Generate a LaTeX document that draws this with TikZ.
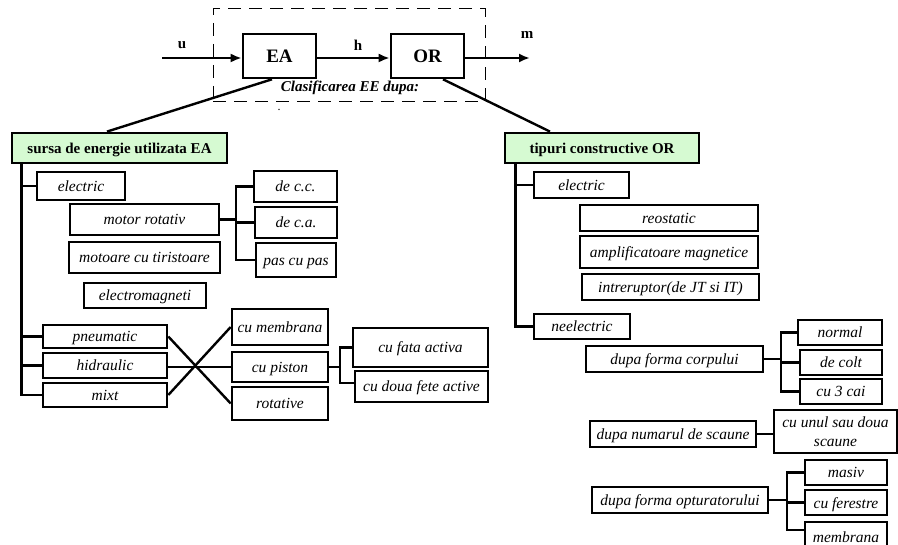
\documentclass[tikz,border=0pt]{standalone}
\usepackage{fontspec}
\setmainfont{Liberation Serif}
\usetikzlibrary{arrows.meta}
\definecolor{lgreen}{RGB}{214,250,210}
\newcommand\mkbox[7][itbox]{\node[#1,minimum width={(#5-#3)*1pt},minimum height={(#6-#4)*1pt}] (#2) at ({(#3+#5)/2},{(#4+#6)/2}) {#7};}
\tikzset{
  itbox/.style={draw, line width=2.6pt, inner sep=0pt, font=\fontsize{15.5}{19}\selectfont\itshape, align=center, text height=12pt, text depth=1pt},
  twoline/.style={draw, line width=2.6pt, inner sep=0pt, font=\fontsize{15.5}{19}\selectfont\itshape, align=center},
  headbox/.style={draw, line width=2.8pt, fill=lgreen, inner sep=0pt, font=\fontsize{15}{17}\selectfont\bfseries, text height=12pt, text depth=1pt},
  blk/.style={draw, line width=2.6pt, inner sep=0pt, font=\fontsize{19}{21}\selectfont\bfseries},
  frame/.style={draw, line width=1pt, dash pattern=on 13pt off 8pt, inner sep=0pt},
  conn/.style={line width=2.4pt},
  arr/.style={line width=2.4pt, -{Latex[length=11pt,width=9pt]}},
  lbl/.style={font=\fontsize{15}{17}\selectfont\bfseries, inner sep=0pt},
  cls/.style={font=\fontsize{15}{17}\selectfont\bfseries\itshape, inner sep=0pt}
}
\begin{document}
\begin{tikzpicture}[x=1pt,y=-1pt]
\useasboundingbox (0,0) rectangle (898,545);
\clip (0,0) rectangle (898,545);
% top block diagram
\mkbox[frame]{frm}{213}{9}{485}{102}{}
\mkbox[blk]{EA}{243}{34}{316}{78}{EA}
\mkbox[blk]{OR}{391}{34}{464}{78}{OR}
\coordinate (uin) at (162,58);
\coordinate (mout) at (530,58);
\draw[arr] (uin) -- (uin -| EA.west);
\draw[arr] (EA.east |- uin) -- (OR.west |- uin);
\draw[arr] (OR.east |- uin) -- (mout);
\node[lbl] (lu) at (182,45) {u};
\node[lbl] (lh) at (358,45) {h};
\node[lbl] (lm) at (527,35) {m};
\node[cls] (clas) at (350,88) {Clasificarea EE dupa:};
\node[lbl, font=\fontsize{12}{14}\selectfont] (dot) at (279,110) {.};
% headers
\mkbox[headbox]{sursa}{12}{133}{227}{163}{sursa de energie utilizata EA}
\mkbox[headbox]{tip}{505}{133}{699}{163}{tipuri constructive OR}
\draw[conn] ([xshift=-7.5pt]EA.south) -- ([xshift=-12.5pt]sursa.north);
\draw[conn] ([xshift=15.5pt]OR.south) -- ([xshift=-52pt]tip.north);
% left tree
\mkbox{el1}{37}{172}{125}{200}{electric}
\mkbox{motor}{70}{204}{219}{235}{motor rotativ}
\mkbox{tiri}{69}{242}{220}{273}{motoare cu tiristoare}
\mkbox{emag}{84}{283}{206}{308}{electromagneti}
\mkbox{dcc}{254}{171}{337}{202}{de c.c.}
\mkbox{dca}{255}{207}{337}{238}{de c.a.}
\mkbox{pcp}{256}{243}{336}{277}{pas cu pas}
\mkbox{pneu}{43}{325}{167}{348}{pneumatic}
\mkbox{hidr}{43}{353}{167}{378}{hidraulic}
\mkbox{mixt}{43}{383}{167}{407}{mixt}
\mkbox{memb}{232}{309}{328}{345}{cu membrana}
\mkbox{pist}{232}{352}{328}{382}{cu piston}
\mkbox{rot}{232}{387}{328}{420}{rotative}
\mkbox{fata}{353}{328}{488}{367}{cu fata activa}
\mkbox{doua}{355}{371}{488}{402}{cu doua fete active}
\coordinate (tl) at ([xshift=11pt]sursa.south west);
\draw[conn] (tl) |- (mixt.west);
\draw[conn] (tl |- el1.west) -- (el1.west);
\draw[conn] (tl |- pneu.west) -- (pneu.west);
\draw[conn] (tl |- hidr.west) -- (hidr.west);
\coordinate (b1) at (236,0);
\draw[conn] (motor.east) -- (motor.east -| b1);
\draw[conn] (dcc.west) -| (b1 |- pcp.west) -- (pcp.west);
\draw[conn] (b1 |- dca.west) -- (dca.west);
\draw[conn] (pneu.east) -- (rot.west);
\draw[conn] (mixt.east) -- (memb.west);
\draw[conn] (pist.west -| hidr.east) -- (pist.west);
\coordinate (b2) at (340,0);
\coordinate (douaw) at ([yshift=3.5pt]doua.west);
\draw[conn] (pist.east) -- (pist.east -| b2);
\draw[conn] (fata.west) -| (b2 |- douaw) -- (douaw);
% right tree
\mkbox{el2}{534}{172}{629}{198}{electric}
\mkbox{reo}{580}{205}{758}{231}{reostatic}
\mkbox{ampl}{580}{236}{758}{268}{amplificatoare magnetice}
\mkbox{intr}{582}{274}{759}{300}{intreruptor(de JT si IT)}
\mkbox{neel}{534}{314}{630}{339}{neelectric}
\mkbox{corp}{586}{346}{763}{372}{dupa forma corpului}
\mkbox{norm}{798}{320}{882}{345}{normal}
\mkbox{colt}{800}{350}{882}{375}{de colt}
\mkbox{cai}{800}{379}{882}{404}{cu 3 cai}
\mkbox{scaun}{590}{421}{756}{447}{dupa numarul de scaune}
\mkbox[twoline]{unul}{774}{410}{897}{453}{cu unul sau doua\\scaune}
\mkbox{optur}{592}{487}{768}{513}{dupa forma opturatorului}
\mkbox{masiv}{805}{460}{887}{485}{masiv}
\mkbox{fere}{805}{490}{887}{515}{cu ferestre}
\mkbox{membr}{805}{522}{887}{552}{membrana}
\coordinate (tr) at ([xshift=12pt]tip.south west);
\draw[conn] (tr) |- (neel.west);
\draw[conn] (tr |- el2.west) -- (el2.west);
\coordinate (b3) at (781,0);
\draw[conn] (corp.east) -- (corp.east -| b3);
\draw[conn] (norm.west) -| (b3 |- cai.west) -- (cai.west);
\draw[conn] (b3 |- colt.west) -- (colt.west);
\draw[conn] (scaun.east) -- (scaun.east -| unul.west);
\coordinate (b4) at (787,0);
\coordinate (membw) at ([yshift=7pt]membr.west);
\draw[conn] (optur.east) -- (optur.east -| b4);
\draw[conn] (masiv.west) -| (b4 |- membw) -- (membw);
\draw[conn] (b4 |- fere.west) -- (fere.west);
\end{tikzpicture}
\end{document}
